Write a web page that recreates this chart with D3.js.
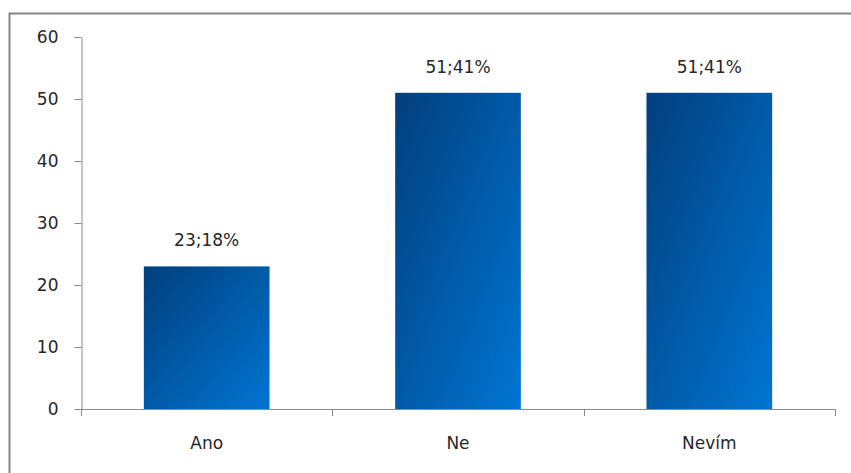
<!DOCTYPE html>
<html>
<head>
<meta charset="utf-8">
<script src="https://cdn.jsdelivr.net/npm/d3@7"></script>
<style>
  body { margin: 0; background: #fff; }
  text { font-family: "DejaVu Sans", sans-serif; }
</style>
</head>
<body>
<div id="container"></div>
<script>
// data
const categories = ["Ano", "Ne", "Nevím"];
const values = [23, 51, 51];
const labels = ["23;18%", "51;41%", "51;41%"];
const yTicks = [0, 10, 20, 30, 40, 50, 60];

const width = 851, height = 473;
const margin = { top: 37, bottom: 64, left: 81, right: 16 };
const fontSize = 17;

const svg = d3.select("#container")
  .append("svg")
  .attr("width", width)
  .attr("height", height);

// gradient for bars
const grad = svg.append("defs").append("linearGradient")
  .attr("id", "barGrad")
  .attr("x1", 0).attr("y1", 0).attr("x2", 1).attr("y2", 1);
grad.append("stop").attr("offset", "0%").attr("stop-color", "#023f7c");
grad.append("stop").attr("offset", "100%").attr("stop-color", "#0075d2");

// outer frame
svg.append("rect")
  .attr("x", 9.5).attr("y", 13.5)
  .attr("width", 900).attr("height", 500)
  .attr("fill", "none")
  .attr("stroke", "#858585")
  .attr("stroke-width", 2);

const x = d3.scaleBand()
  .domain(categories)
  .range([margin.left, width - margin.right])
  .paddingInner(0.5)
  .paddingOuter(0.25);

const y = d3.scaleLinear()
  .domain([0, 60])
  .range([height - margin.bottom, margin.top]);

// y axis
const yAxis = svg.append("g")
  .attr("transform", `translate(${margin.left + 0.5},0)`)
  .call(d3.axisLeft(y).tickValues(yTicks).tickSize(7).tickPadding(16).tickSizeOuter(0));
yAxis.select(".domain").attr("stroke", "#8c8c8c");
yAxis.selectAll(".tick line").attr("stroke", "#8c8c8c");
yAxis.selectAll(".tick text")
  .attr("font-size", fontSize)
  .attr("fill", "#262626")
  .attr("font-family", "DejaVu Sans, sans-serif");

// bars
svg.selectAll("rect.bar")
  .data(values)
  .join("rect")
  .attr("class", "bar")
  .attr("x", (d, i) => x(categories[i]))
  .attr("y", d => y(d))
  .attr("width", x.bandwidth())
  .attr("height", d => y(0) - y(d))
  .attr("fill", "url(#barGrad)");

// x axis (boundaries between categories)
const step = x.step();
const bounds = d3.range(categories.length + 1).map(i => margin.left + i * step);
const xAxis = svg.append("g");
xAxis.append("line")
  .attr("x1", margin.left).attr("x2", width - margin.right)
  .attr("y1", y(0) + 0.5).attr("y2", y(0) + 0.5)
  .attr("stroke", "#8c8c8c");
xAxis.selectAll("line.tick")
  .data(bounds)
  .join("line")
  .attr("class", "tick")
  .attr("x1", d => Math.round(d) + 0.5).attr("x2", d => Math.round(d) + 0.5)
  .attr("y1", y(0)).attr("y2", y(0) + 7)
  .attr("stroke", "#8c8c8c");

xAxis.selectAll("text")
  .data(categories)
  .join("text")
  .attr("x", d => x(d) + x.bandwidth() / 2)
  .attr("y", y(0) + 40)
  .attr("text-anchor", "middle")
  .attr("font-size", fontSize)
  .attr("fill", "#262626")
  .text(d => d);

// data labels
svg.selectAll("text.lbl")
  .data(values)
  .join("text")
  .attr("class", "lbl")
  .attr("x", (d, i) => x(categories[i]) + x.bandwidth() / 2)
  .attr("y", d => y(d) - 20)
  .attr("text-anchor", "middle")
  .attr("font-size", fontSize)
  .attr("fill", "#262626")
  .text((d, i) => labels[i]);
</script>
</body>
</html>
